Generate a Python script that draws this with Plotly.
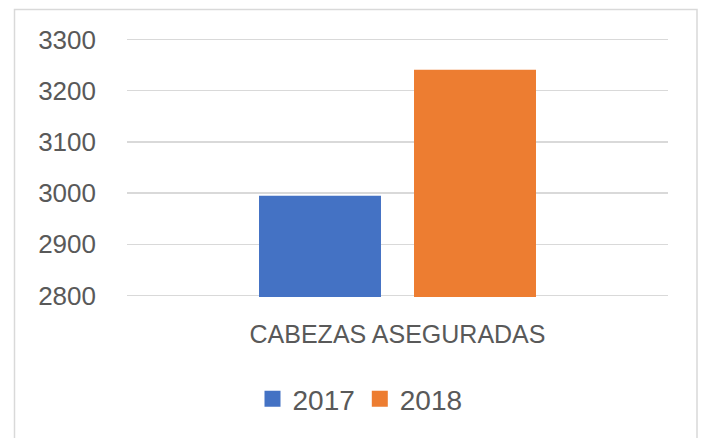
import plotly.graph_objects as go

categories = ["CABEZAS ASEGURADAS"]
series_names = ["2017", "2018"]
values_2017 = [2995]
values_2018 = [3241]
series_colors = ["#4472C4", "#ED7D31"]
y_ticks = [2800, 2900, 3000, 3100, 3200, 3300]

W, H = 704, 438
L, R, T, B = 127, 36, 38, 141
pw = W - L - R
ph = H - T - B

def px_x(p):
    return (p - L) / pw

def px_y(p):
    return (H - B - p) / ph

FONT = "Liberation Sans"
GRAY = "#595959"

fig = go.Figure()
for name, vals, col in zip(series_names, [values_2017, values_2018], series_colors):
    fig.add_trace(go.Bar(x=categories, y=vals, name=name, showlegend=False,
                         marker=dict(color=col, line=dict(width=0))))
# legend entries with larger square swatches
for name, col in zip(series_names, series_colors):
    fig.add_trace(go.Scatter(x=[None], y=[None], mode="markers", name=name,
                             marker=dict(symbol="square", size=16, color=col)))

fig.update_layout(
    width=W, height=H,
    margin=dict(l=L, r=R, t=T, b=B, autoexpand=False),
    paper_bgcolor="white", plot_bgcolor="white",
    barmode="group", bargap=0.427, bargroupgap=0.213,
    font=dict(family=FONT, color=GRAY),
    showlegend=True,
    legend=dict(orientation="h", x=px_x(360), y=px_y(399), xanchor="center", yanchor="middle",
                font=dict(size=28, color=GRAY, family=FONT), bgcolor="rgba(0,0,0,0)",
                itemwidth=30, traceorder="normal", itemsizing="trace"),
    xaxis=dict(showgrid=False, showline=False, ticks="", tickfont=dict(size=25, color=GRAY),
               ticklabelstandoff=20, fixedrange=True),
    yaxis=dict(range=[2797, 3303], tickvals=y_ticks, ticktext=[str(v) for v in y_ticks],
               showgrid=True, gridcolor="#D9D9D9", gridwidth=1.5, zeroline=False, showline=False,
               tickfont=dict(size=26, color=GRAY), ticks="", ticklabelstandoff=30, fixedrange=True),
    shapes=[dict(type="rect", xref="paper", yref="paper",
                 x0=px_x(14.5), x1=px_x(697), y0=px_y(445), y1=px_y(9.5),
                 line=dict(color="#D9D9D9", width=1.5), fillcolor="rgba(0,0,0,0)", layer="below")],
)

fig.write_html("out.html", config={"displayModeBar": False, "staticPlot": True},
               post_script="document.body.style.margin='0';document.body.style.padding='0';")
